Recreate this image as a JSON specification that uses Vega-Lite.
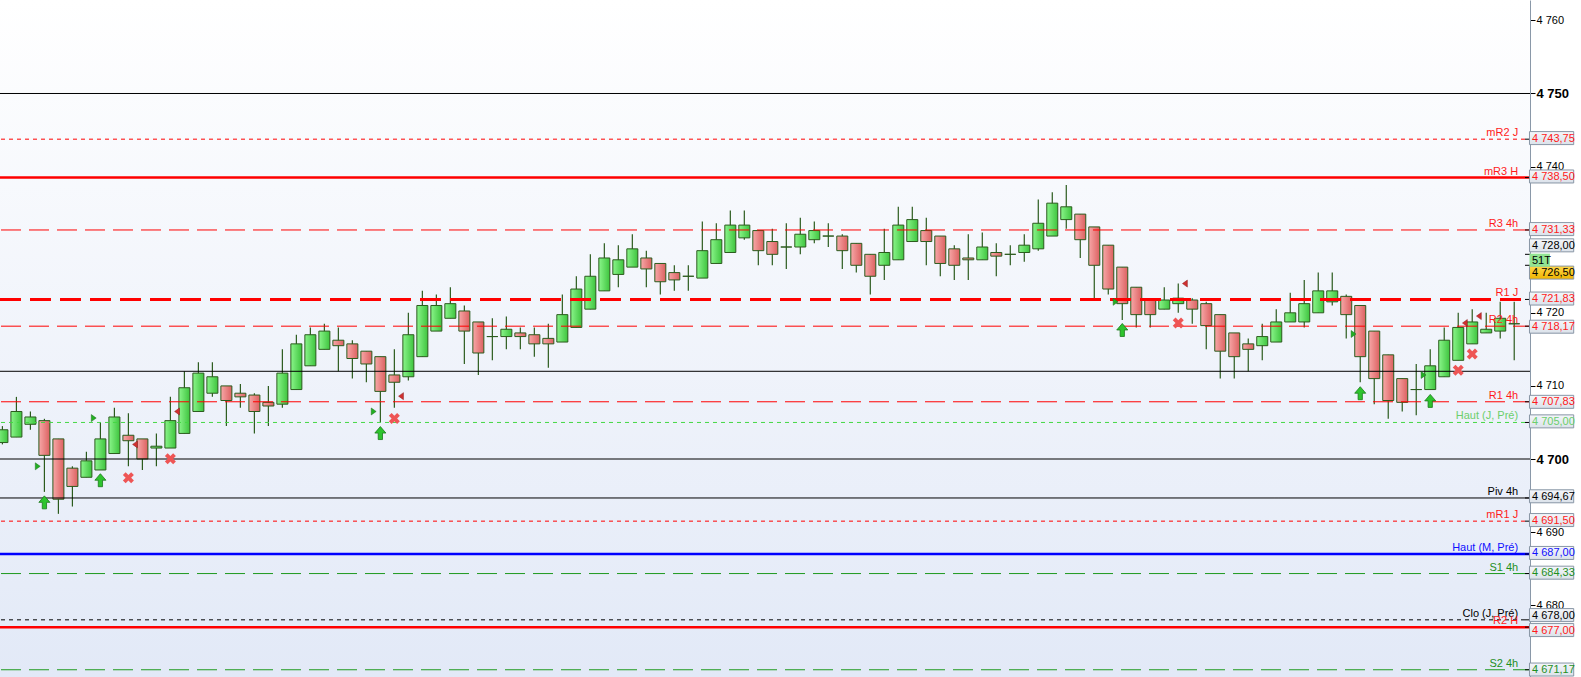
{
  "$schema": "https://vega.github.io/schema/vega-lite/v6.json",
  "width": 1530,
  "height": 677,
  "autosize": {"type": "none"},
  "padding": {"left": 0, "top": 0, "right": 51, "bottom": 0},
  "background": "#ffffff",
  "datasets": {
    "candles": [
      {"i": 0, "o": 4702.25, "h": 4704.5, "l": 4702, "c": 4704},
      {"i": 1, "o": 4703, "h": 4708.5, "l": 4703, "c": 4706.5},
      {"i": 2, "o": 4704.75, "h": 4706.5, "l": 4704, "c": 4705.75},
      {"i": 3, "o": 4705.25, "h": 4705.5, "l": 4695.5, "c": 4700.5},
      {"i": 4, "o": 4702.75, "h": 4702.75, "l": 4692.5, "c": 4694.5},
      {"i": 5, "o": 4698.75, "h": 4699, "l": 4693.5, "c": 4696.25},
      {"i": 6, "o": 4697.5, "h": 4701, "l": 4697.5, "c": 4699.75},
      {"i": 7, "o": 4698.5, "h": 4705, "l": 4698.5, "c": 4702.75},
      {"i": 8, "o": 4700.75, "h": 4707, "l": 4700.75, "c": 4705.75},
      {"i": 9, "o": 4703.25, "h": 4706.25, "l": 4699, "c": 4702.5},
      {"i": 10, "o": 4702.75, "h": 4702.75, "l": 4698.5, "c": 4700},
      {"i": 11, "o": 4701.5, "h": 4703.5, "l": 4699, "c": 4701.75},
      {"i": 12, "o": 4701.5, "h": 4708.5, "l": 4701.5, "c": 4705.25},
      {"i": 13, "o": 4703.5, "h": 4712, "l": 4703.5, "c": 4709.75},
      {"i": 14, "o": 4706.5, "h": 4713.25, "l": 4706.5, "c": 4711.75},
      {"i": 15, "o": 4709, "h": 4713.25, "l": 4708.5, "c": 4711.25},
      {"i": 16, "o": 4710, "h": 4710, "l": 4704.5, "c": 4708},
      {"i": 17, "o": 4709, "h": 4710.25, "l": 4707, "c": 4708.5},
      {"i": 18, "o": 4708.75, "h": 4709, "l": 4703.5, "c": 4706.5},
      {"i": 19, "o": 4707.75, "h": 4710, "l": 4704.5, "c": 4707.25},
      {"i": 20, "o": 4707.5, "h": 4715, "l": 4707, "c": 4711.75},
      {"i": 21, "o": 4709.5, "h": 4717, "l": 4709.5, "c": 4715.75},
      {"i": 22, "o": 4712.75, "h": 4718, "l": 4712.75, "c": 4717},
      {"i": 23, "o": 4715, "h": 4718.5, "l": 4715, "c": 4717.5},
      {"i": 24, "o": 4716.25, "h": 4718, "l": 4712, "c": 4715.5},
      {"i": 25, "o": 4715.75, "h": 4716.25, "l": 4711, "c": 4713.75},
      {"i": 26, "o": 4714.75, "h": 4714.75, "l": 4710.5, "c": 4713},
      {"i": 27, "o": 4714, "h": 4714, "l": 4705, "c": 4709.25},
      {"i": 28, "o": 4711.5, "h": 4715, "l": 4707, "c": 4710.5},
      {"i": 29, "o": 4711.25, "h": 4720, "l": 4710.75, "c": 4717},
      {"i": 30, "o": 4714, "h": 4723, "l": 4714, "c": 4721},
      {"i": 31, "o": 4717.5, "h": 4722.5, "l": 4717.5, "c": 4721},
      {"i": 32, "o": 4719.25, "h": 4723.5, "l": 4719.25, "c": 4721.25},
      {"i": 33, "o": 4720.25, "h": 4721, "l": 4713, "c": 4717.5},
      {"i": 34, "o": 4718.75, "h": 4718.75, "l": 4711.5, "c": 4714.5},
      {"i": 35, "o": 4716.75, "h": 4719.25, "l": 4713.5, "c": 4716.75},
      {"i": 36, "o": 4716.75, "h": 4719.5, "l": 4715, "c": 4717.75},
      {"i": 37, "o": 4717.25, "h": 4718, "l": 4715, "c": 4716.75},
      {"i": 38, "o": 4717, "h": 4718, "l": 4714, "c": 4715.75},
      {"i": 39, "o": 4716.5, "h": 4718.5, "l": 4712.5, "c": 4715.75},
      {"i": 40, "o": 4716, "h": 4722.5, "l": 4716, "c": 4719.75},
      {"i": 41, "o": 4718, "h": 4725, "l": 4718, "c": 4723.25},
      {"i": 42, "o": 4720.5, "h": 4728, "l": 4720.5, "c": 4725},
      {"i": 43, "o": 4723, "h": 4729.5, "l": 4723, "c": 4727.5},
      {"i": 44, "o": 4725.25, "h": 4729.25, "l": 4723.5, "c": 4727.25},
      {"i": 45, "o": 4726.25, "h": 4730.75, "l": 4726.25, "c": 4728.75},
      {"i": 46, "o": 4727.5, "h": 4728.5, "l": 4723.5, "c": 4726},
      {"i": 47, "o": 4726.75, "h": 4726.75, "l": 4722.5, "c": 4724.25},
      {"i": 48, "o": 4725.5, "h": 4726.5, "l": 4723, "c": 4724.5},
      {"i": 49, "o": 4725, "h": 4726.5, "l": 4723, "c": 4725},
      {"i": 50, "o": 4724.75, "h": 4732.5, "l": 4724.75, "c": 4728.5},
      {"i": 51, "o": 4726.75, "h": 4732.25, "l": 4726.75, "c": 4730},
      {"i": 52, "o": 4728.25, "h": 4734, "l": 4728.25, "c": 4732},
      {"i": 53, "o": 4730.25, "h": 4734, "l": 4730, "c": 4732},
      {"i": 54, "o": 4731.25, "h": 4731.25, "l": 4726.5, "c": 4728.5},
      {"i": 55, "o": 4729.75, "h": 4731.5, "l": 4726.5, "c": 4728},
      {"i": 56, "o": 4729, "h": 4732.25, "l": 4726, "c": 4729},
      {"i": 57, "o": 4729, "h": 4733, "l": 4728, "c": 4730.75},
      {"i": 58, "o": 4730, "h": 4732.5, "l": 4729.5, "c": 4731.25},
      {"i": 59, "o": 4730.5, "h": 4732.25, "l": 4729, "c": 4730.5},
      {"i": 60, "o": 4730.5, "h": 4730.75, "l": 4726, "c": 4728.5},
      {"i": 61, "o": 4729.5, "h": 4729.5, "l": 4725.5, "c": 4726.5},
      {"i": 62, "o": 4728, "h": 4728, "l": 4722.5, "c": 4725},
      {"i": 63, "o": 4726.5, "h": 4731.5, "l": 4724.5, "c": 4728.25},
      {"i": 64, "o": 4727.25, "h": 4734.5, "l": 4727.25, "c": 4732},
      {"i": 65, "o": 4729.75, "h": 4734.5, "l": 4729.75, "c": 4732.75},
      {"i": 66, "o": 4731.25, "h": 4733, "l": 4726.5, "c": 4729.75},
      {"i": 67, "o": 4730.5, "h": 4730.5, "l": 4725, "c": 4726.75},
      {"i": 68, "o": 4728.75, "h": 4729.25, "l": 4724.5, "c": 4726.5},
      {"i": 69, "o": 4727.5, "h": 4730.75, "l": 4724.5, "c": 4727.25},
      {"i": 70, "o": 4727.25, "h": 4731, "l": 4727.25, "c": 4729},
      {"i": 71, "o": 4728.25, "h": 4729.5, "l": 4725, "c": 4727.75},
      {"i": 72, "o": 4728, "h": 4729.25, "l": 4726.5, "c": 4728},
      {"i": 73, "o": 4728.25, "h": 4730.75, "l": 4727, "c": 4729.25},
      {"i": 74, "o": 4728.75, "h": 4735.5, "l": 4728.5, "c": 4732.25},
      {"i": 75, "o": 4730.5, "h": 4736.5, "l": 4730.5, "c": 4735},
      {"i": 76, "o": 4732.75, "h": 4737.5, "l": 4731.5, "c": 4734.5},
      {"i": 77, "o": 4733.5, "h": 4733.5, "l": 4727.5, "c": 4730},
      {"i": 78, "o": 4731.75, "h": 4731.75, "l": 4722, "c": 4726.5},
      {"i": 79, "o": 4729.25, "h": 4729.25, "l": 4722.5, "c": 4723.25},
      {"i": 80, "o": 4726.25, "h": 4726.25, "l": 4719, "c": 4721.25},
      {"i": 81, "o": 4723.5, "h": 4723.5, "l": 4718, "c": 4719.75},
      {"i": 82, "o": 4721.75, "h": 4721.75, "l": 4718, "c": 4719.75},
      {"i": 83, "o": 4720.5, "h": 4723.5, "l": 4720.5, "c": 4721.75},
      {"i": 84, "o": 4721.25, "h": 4724, "l": 4720, "c": 4722},
      {"i": 85, "o": 4721.75, "h": 4722, "l": 4718.5, "c": 4720.5},
      {"i": 86, "o": 4721.25, "h": 4721.5, "l": 4715, "c": 4718.25},
      {"i": 87, "o": 4719.75, "h": 4719.75, "l": 4711, "c": 4714.75},
      {"i": 88, "o": 4717.25, "h": 4717.25, "l": 4711, "c": 4714},
      {"i": 89, "o": 4715.75, "h": 4716.5, "l": 4712, "c": 4715},
      {"i": 90, "o": 4715.5, "h": 4718.5, "l": 4713.5, "c": 4716.75},
      {"i": 91, "o": 4716, "h": 4720.5, "l": 4716, "c": 4718.75},
      {"i": 92, "o": 4718.75, "h": 4722.75, "l": 4718.75, "c": 4720},
      {"i": 93, "o": 4718.75, "h": 4724.5, "l": 4718, "c": 4721.25},
      {"i": 94, "o": 4720, "h": 4725.5, "l": 4720, "c": 4723},
      {"i": 95, "o": 4721.5, "h": 4725.5, "l": 4721, "c": 4723},
      {"i": 96, "o": 4722.25, "h": 4722.5, "l": 4716.5, "c": 4719.75},
      {"i": 97, "o": 4721, "h": 4721, "l": 4710.5, "c": 4714},
      {"i": 98, "o": 4717.5, "h": 4717.5, "l": 4707.5, "c": 4711},
      {"i": 99, "o": 4714.25, "h": 4714.25, "l": 4705.5, "c": 4708},
      {"i": 100, "o": 4711, "h": 4711, "l": 4706.5, "c": 4707.75},
      {"i": 101, "o": 4709.5, "h": 4713, "l": 4706, "c": 4709.5},
      {"i": 102, "o": 4709.5, "h": 4715, "l": 4709.5, "c": 4712.75},
      {"i": 103, "o": 4711.25, "h": 4718, "l": 4711.25, "c": 4716.25},
      {"i": 104, "o": 4713.5, "h": 4720, "l": 4713.5, "c": 4718},
      {"i": 105, "o": 4715.75, "h": 4720.5, "l": 4715.75, "c": 4718.75},
      {"i": 106, "o": 4717.25, "h": 4720, "l": 4717.25, "c": 4717.75},
      {"i": 107, "o": 4717.5, "h": 4721.5, "l": 4716.5, "c": 4719.25},
      {"i": 108, "o": 4718.5, "h": 4721.5, "l": 4713.5, "c": 4718.5}
    ],
    "grid": [
      {"p": 4750},
      {"p": 4712},
      {"p": 4700}
    ],
    "levels": [
      {"name": "mR2 J", "p": 4743.75, "ty": 4743.9, "grp": "mJ", "t": "4 743,75", "box": "std"},
      {"name": "mR3 H", "p": 4738.5, "ty": 4738.65, "grp": "H", "t": "4 738,50", "box": "std"},
      {"name": "R3 4h", "p": 4731.33, "ty": 4731.45, "grp": "R4h", "t": "4 731,33", "box": "std"},
      {"name": "", "p": 4728, "ty": 4729.23, "grp": "tag", "t": "4 728,00", "box": "std"},
      {"name": "", "p": 4726.5, "ty": 4725.5, "grp": "tag", "t": "4 726,50", "box": "gold"},
      {"name": "R1 J", "p": 4721.83, "ty": 4721.95, "grp": "RJ", "t": "4 721,83", "box": "std"},
      {"name": "R2 4h", "p": 4718.17, "ty": 4718.1, "grp": "R4h", "t": "4 718,17", "box": "std"},
      {"name": "R1 4h", "p": 4707.83, "ty": 4707.82, "grp": "R4h", "t": "4 707,83", "box": "std"},
      {"name": "Haut (J, Pré)", "p": 4705, "ty": 4705.15, "grp": "HautJ", "t": "4 705,00", "box": "std"},
      {"name": "Piv 4h", "p": 4694.67, "ty": 4694.9, "grp": "Piv4h", "t": "4 694,67", "box": "std"},
      {"name": "mR1 J", "p": 4691.5, "ty": 4691.65, "grp": "mJ", "t": "4 691,50", "box": "std"},
      {"name": "Haut (M, Pré)", "p": 4687, "ty": 4687.15, "grp": "HautM", "t": "4 687,00", "box": "std"},
      {"name": "S1 4h", "p": 4684.33, "ty": 4684.45, "grp": "S4h", "t": "4 684,33", "box": "std"},
      {"name": "Clo (J, Pré)", "p": 4678, "ty": 4678.65, "grp": "CloJ", "t": "4 678,00", "box": "std"},
      {"name": "R2 H", "p": 4677, "ty": 4676.6, "grp": "H", "t": "4 677,00", "box": "std"},
      {"name": "S2 4h", "p": 4671.17, "ty": 4671.2, "grp": "S4h", "t": "4 671,17", "box": "std"}
    ],
    "counter": [
      {"ty": 4727.2, "t": "51T"}
    ],
    "signals": [
      {"i": 3, "p": 4694.07, "k": "up"},
      {"i": 7, "p": 4697.1, "k": "up"},
      {"i": 27, "p": 4703.55, "k": "up"},
      {"i": 80, "p": 4717.65, "k": "up"},
      {"i": 97, "p": 4709.0, "k": "up"},
      {"i": 102, "p": 4707.95, "k": "up"},
      {"i": 9, "p": 4697.45, "k": "x"},
      {"i": 12, "p": 4700.05, "k": "x"},
      {"i": 28, "p": 4705.55, "k": "x"},
      {"i": 84, "p": 4718.6, "k": "x"},
      {"i": 104, "p": 4712.15, "k": "x"},
      {"i": 105, "p": 4714.35, "k": "x"},
      {"i": 2.5, "p": 4699.0, "k": "tg"},
      {"i": 6.5, "p": 4705.6, "k": "tg"},
      {"i": 26.5, "p": 4706.5, "k": "tg"},
      {"i": 79.5, "p": 4721.5, "k": "tg"},
      {"i": 96.5, "p": 4717.1, "k": "tg"},
      {"i": 101.5, "p": 4711.5, "k": "tg"},
      {"i": 9.5, "p": 4702.0, "k": "tr"},
      {"i": 12.5, "p": 4706.5, "k": "tr"},
      {"i": 28.5, "p": 4708.6, "k": "tr"},
      {"i": 84.5, "p": 4724.0, "k": "tr"},
      {"i": 104.5, "p": 4718.6, "k": "tr"},
      {"i": 105.5, "p": 4719.55, "k": "tr"}
    ]
  },
  "layer": [
    {
      "data": {"name": "candles"},
      "mark": {"type": "rule", "color": "#2b5b1d", "strokeWidth": 1.2, "clip": true},
      "encoding": {
        "x": {"field": "i", "type": "quantitative", "scale": {"domain": [0.185, 108.77], "nice": false, "zero": false}, "axis": null},
        "y": {
          "field": "l", "type": "quantitative", "title": null,
          "scale": {"domain": [4670.18, 4762.79], "nice": false, "zero": false},
          "axis": {
            "orient": "right",
            "values": [4680, 4690, 4700, 4710, 4720, 4740, 4750, 4760],
            "labelExpr": "replace(format(datum.value, ','), ',', ' ')",
            "labelFont": "Liberation Sans",
            "labelFontSize": {"condition": {"test": "datum.value === 4750 || datum.value === 4700", "value": 13}, "value": 11},
            "labelFontWeight": {"condition": {"test": "datum.value === 4750 || datum.value === 4700", "value": "bold"}, "value": "normal"},
            "labelColor": "#000000",
            "labelPadding": 1,
            "labelOverlap": false,
            "labelFlush": false,
            "labelBound": false,
            "tickColor": "#000000",
            "tickSize": 5,
            "domainColor": "#8a98a8",
            "grid": false
          }
        },
        "y2": {"field": "h"}
      }
    },
    {
      "data": {"name": "candles"},
      "transform": [{"filter": "datum.c >= datum.o"}],
      "mark": {
        "type": "bar", "width": 11, "clip": true, "stroke": "#2b5b1d", "strokeWidth": 1,
        "fill": {"gradient": "linear", "x1": 0, "y1": 0, "x2": 1, "y2": 0, "stops": [{"offset": 0, "color": "#8af58a"}, {"offset": 1, "color": "#3ec43e"}]}
      },
      "encoding": {
        "x": {"field": "i", "type": "quantitative", "scale": {"domain": [0.185, 108.77], "nice": false, "zero": false}, "axis": null},
        "y": {"field": "o", "type": "quantitative", "title": null, "scale": {"domain": [4670.18, 4762.79], "nice": false, "zero": false}},
        "y2": {"field": "c"}
      }
    },
    {
      "data": {"name": "candles"},
      "transform": [{"filter": "datum.c < datum.o"}],
      "mark": {
        "type": "bar", "width": 11, "clip": true, "stroke": "#2b5b1d", "strokeWidth": 1,
        "fill": {"gradient": "linear", "x1": 0, "y1": 0, "x2": 1, "y2": 0, "stops": [{"offset": 0, "color": "#f7a8a8"}, {"offset": 1, "color": "#dc6060"}]}
      },
      "encoding": {
        "x": {"field": "i", "type": "quantitative", "scale": {"domain": [0.185, 108.77], "nice": false, "zero": false}, "axis": null},
        "y": {"field": "o", "type": "quantitative", "title": null, "scale": {"domain": [4670.18, 4762.79], "nice": false, "zero": false}},
        "y2": {"field": "c"}
      }
    },
    {
      "data": {"name": "grid"},
      "mark": {"type": "rule", "color": "#000000", "strokeWidth": 1},
      "encoding": {
        "y": {"field": "p", "type": "quantitative", "title": null, "scale": {"domain": [4670.18, 4762.79], "nice": false, "zero": false}}
      }
    },
    {
      "data": {"name": "levels"},
      "transform": [{"filter": "datum.grp === 'mJ' || datum.grp === 'R4h' || datum.grp === 'HautJ' || datum.grp === 'CloJ' || datum.grp === 'Piv4h' || datum.grp === 'S4h'"}],
      "mark": {"type": "rule", "strokeWidth": 1, "strokeDashOffset": 3},
      "encoding": {
        "y": {"field": "p", "type": "quantitative", "title": null, "scale": {"domain": [4670.18, 4762.79], "nice": false, "zero": false}},
        "stroke": {
          "field": "grp", "type": "nominal", "legend": null,
          "scale": {"domain": ["mJ", "H", "R4h", "RJ", "HautJ", "CloJ", "Piv4h", "HautM", "S4h"], "range": ["#ff0000", "#ff0000", "#ff0000", "#ff0000", "#44d844", "#000000", "#000000", "#0000ff", "#1e9a1e"]}
        },
        "strokeDash": {
          "field": "grp", "type": "nominal", "legend": null,
          "scale": {"domain": ["mJ", "H", "R4h", "RJ", "HautJ", "CloJ", "Piv4h", "HautM", "S4h"], "range": [[4, 4], [1, 0], [20, 8], [21, 9], [4, 4], [4, 4], [1, 0], [1, 0], [20, 8]]}
        }
      }
    },
    {
      "data": {"name": "levels"},
      "transform": [{"filter": "datum.grp === 'H' || datum.grp === 'HautM'"}],
      "mark": {"type": "rule", "strokeWidth": 2.5},
      "encoding": {
        "y": {"field": "p", "type": "quantitative", "title": null, "scale": {"domain": [4670.18, 4762.79], "nice": false, "zero": false}},
        "stroke": {
          "field": "grp", "type": "nominal", "legend": null,
          "scale": {"domain": ["mJ", "H", "R4h", "RJ", "HautJ", "CloJ", "Piv4h", "HautM", "S4h"], "range": ["#ff0000", "#ff0000", "#ff0000", "#ff0000", "#44d844", "#000000", "#000000", "#0000ff", "#1e9a1e"]}
        }
      }
    },
    {
      "data": {"name": "levels"},
      "transform": [{"filter": "datum.grp === 'RJ'"}],
      "mark": {"type": "rule", "strokeWidth": 3, "strokeDash": [21, 9], "strokeDashOffset": 21},
      "encoding": {
        "y": {"field": "p", "type": "quantitative", "title": null, "scale": {"domain": [4670.18, 4762.79], "nice": false, "zero": false}},
        "stroke": {
          "field": "grp", "type": "nominal", "legend": null,
          "scale": {"domain": ["mJ", "H", "R4h", "RJ", "HautJ", "CloJ", "Piv4h", "HautM", "S4h"], "range": ["#ff0000", "#ff0000", "#ff0000", "#ff0000", "#44d844", "#000000", "#000000", "#0000ff", "#1e9a1e"]}
        }
      }
    },
    {
      "data": {"name": "signals"},
      "transform": [{"filter": "datum.k === 'up'"}],
      "mark": {"type": "point", "filled": true, "opacity": 1, "size": 169, "shape": "M0,-1 L0.85,0 L0.33,0 L0.33,1 L-0.33,1 L-0.33,0 L-0.85,0 Z", "fill": "#2ec42e", "stroke": "#1a7a1a", "strokeWidth": 0.8},
      "encoding": {
        "x": {"field": "i", "type": "quantitative", "scale": {"domain": [0.185, 108.77], "nice": false, "zero": false}, "axis": null},
        "y": {"field": "p", "type": "quantitative", "title": null, "scale": {"domain": [4670.18, 4762.79], "nice": false, "zero": false}}
      }
    },
    {
      "data": {"name": "signals"},
      "transform": [{"filter": "datum.k === 'x'"}],
      "mark": {"type": "point", "filled": true, "opacity": 1, "size": 121, "shape": "M-1,-0.5 L-0.5,-1 L0,-0.5 L0.5,-1 L1,-0.5 L0.5,0 L1,0.5 L0.5,1 L0,0.5 L-0.5,1 L-1,0.5 L-0.5,0 Z", "fill": "#ee5555", "strokeWidth": 0},
      "encoding": {
        "x": {"field": "i", "type": "quantitative", "scale": {"domain": [0.185, 108.77], "nice": false, "zero": false}, "axis": null},
        "y": {"field": "p", "type": "quantitative", "title": null, "scale": {"domain": [4670.18, 4762.79], "nice": false, "zero": false}}
      }
    },
    {
      "data": {"name": "signals"},
      "transform": [{"filter": "datum.k === 'tg'"}],
      "mark": {"type": "point", "filled": true, "opacity": 1, "size": 49, "shape": "M-0.6,-1 L0.8,0 L-0.6,1 Z", "fill": "#22b022", "stroke": "#1b6b1b", "strokeWidth": 0.5},
      "encoding": {
        "x": {"field": "i", "type": "quantitative", "scale": {"domain": [0.185, 108.77], "nice": false, "zero": false}, "axis": null},
        "y": {"field": "p", "type": "quantitative", "title": null, "scale": {"domain": [4670.18, 4762.79], "nice": false, "zero": false}}
      }
    },
    {
      "data": {"name": "signals"},
      "transform": [{"filter": "datum.k === 'tr'"}],
      "mark": {"type": "point", "filled": true, "opacity": 1, "size": 49, "shape": "M0.6,-1 L-0.8,0 L0.6,1 Z", "fill": "#d03030", "stroke": "#8a1a1a", "strokeWidth": 0.5},
      "encoding": {
        "x": {"field": "i", "type": "quantitative", "scale": {"domain": [0.185, 108.77], "nice": false, "zero": false}, "axis": null},
        "y": {"field": "p", "type": "quantitative", "title": null, "scale": {"domain": [4670.18, 4762.79], "nice": false, "zero": false}}
      }
    },
    {
      "data": {"name": "levels"},
      "transform": [{"filter": "datum.grp !== 'tag'"}],
      "mark": {"type": "text", "align": "right", "baseline": "alphabetic", "dy": -3, "font": "Liberation Sans", "fontSize": 11},
      "encoding": {
        "x": {"datum": 108.28, "type": "quantitative", "scale": {"domain": [0.185, 108.77], "nice": false, "zero": false}},
        "y": {"field": "p", "type": "quantitative", "title": null, "scale": {"domain": [4670.18, 4762.79], "nice": false, "zero": false}},
        "text": {"field": "name"},
        "color": {
          "field": "grp", "type": "nominal", "legend": null,
          "scale": {"domain": ["mJ", "H", "R4h", "RJ", "HautJ", "CloJ", "Piv4h", "HautM", "S4h", "tag"], "range": ["#ff1a1a", "#ff1a1a", "#ff1a1a", "#ff1a1a", "#6ccf6c", "#000000", "#000000", "#1010ff", "#1e8f1e", "#000000"]}
        }
      }
    },
    {
      "data": {"name": "levels"},
      "mark": {"type": "rule", "color": "#000000", "strokeWidth": 1},
      "encoding": {
        "x": {"datum": 108.77, "type": "quantitative", "scale": {"domain": [0.185, 108.77], "nice": false, "zero": false}},
        "x2": {"datum": 109.13},
        "y": {"field": "p", "type": "quantitative", "title": null, "scale": {"domain": [4670.18, 4762.79], "nice": false, "zero": false}}
      }
    },
    {
      "data": {"name": "levels"},
      "transform": [{"filter": "datum.box === 'std'"}],
      "mark": {
        "type": "rect", "yOffset": -6.5, "y2Offset": 6.5, "stroke": "#8896a5", "strokeWidth": 1,
        "fill": {"gradient": "linear", "x1": 0, "y1": 0, "x2": 0, "y2": 1, "stops": [{"offset": 0, "color": "#f4f6fa"}, {"offset": 1, "color": "#dbe2ea"}]}
      },
      "encoding": {
        "x": {"datum": 109.09, "type": "quantitative", "scale": {"domain": [0.185, 108.77], "nice": false, "zero": false}},
        "x2": {"datum": 112.25},
        "y": {"field": "ty", "type": "quantitative", "title": null, "scale": {"domain": [4670.18, 4762.79], "nice": false, "zero": false}},
        "y2": {"field": "ty"}
      }
    },
    {
      "data": {"name": "levels"},
      "transform": [{"filter": "datum.box === 'gold'"}],
      "mark": {
        "type": "rect", "yOffset": -6.5, "y2Offset": 6.5, "stroke": "#8896a5", "strokeWidth": 1,
        "fill": {"gradient": "linear", "x1": 0, "y1": 0, "x2": 0, "y2": 1, "stops": [{"offset": 0, "color": "#ffd84a"}, {"offset": 1, "color": "#f0b400"}]}
      },
      "encoding": {
        "x": {"datum": 109.09, "type": "quantitative", "scale": {"domain": [0.185, 108.77], "nice": false, "zero": false}},
        "x2": {"datum": 112.25},
        "y": {"field": "ty", "type": "quantitative", "title": null, "scale": {"domain": [4670.18, 4762.79], "nice": false, "zero": false}},
        "y2": {"field": "ty"}
      }
    },
    {
      "data": {"name": "counter"},
      "mark": {"type": "rect", "yOffset": -6.5, "y2Offset": 6.5, "fill": "#92e492"},
      "encoding": {
        "x": {"datum": 109.09, "type": "quantitative", "scale": {"domain": [0.185, 108.77], "nice": false, "zero": false}},
        "x2": {"datum": 110.55},
        "y": {"field": "ty", "type": "quantitative", "title": null, "scale": {"domain": [4670.18, 4762.79], "nice": false, "zero": false}},
        "y2": {"field": "ty"}
      }
    },
    {
      "data": {"name": "counter"},
      "mark": {"type": "text", "align": "left", "baseline": "middle", "dy": 0.5, "font": "Liberation Sans", "fontSize": 11, "color": "#000000"},
      "encoding": {
        "x": {"datum": 109.27, "type": "quantitative", "scale": {"domain": [0.185, 108.77], "nice": false, "zero": false}},
        "y": {"field": "ty", "type": "quantitative", "title": null, "scale": {"domain": [4670.18, 4762.79], "nice": false, "zero": false}},
        "text": {"field": "t"}
      }
    },
    {
      "data": {"name": "levels"},
      "mark": {"type": "text", "align": "left", "baseline": "middle", "dy": 0.5, "font": "Liberation Sans", "fontSize": 11},
      "encoding": {
        "x": {"datum": 109.27, "type": "quantitative", "scale": {"domain": [0.185, 108.77], "nice": false, "zero": false}},
        "y": {"field": "ty", "type": "quantitative", "title": null, "scale": {"domain": [4670.18, 4762.79], "nice": false, "zero": false}},
        "text": {"field": "t"},
        "color": {
          "field": "grp", "type": "nominal", "legend": null,
          "scale": {"domain": ["mJ", "H", "R4h", "RJ", "HautJ", "CloJ", "Piv4h", "HautM", "S4h", "tag"], "range": ["#ff1a1a", "#ff1a1a", "#ff1a1a", "#ff1a1a", "#6ccf6c", "#000000", "#000000", "#1010ff", "#1e8f1e", "#000000"]}
        }
      }
    }
  ],
  "config": {
    "view": {
      "stroke": null,
      "fill": {"gradient": "linear", "x1": 0, "y1": 0, "x2": 0, "y2": 1, "stops": [{"offset": 0, "color": "#ffffff"}, {"offset": 1, "color": "#e2e9f7"}]}
    },
    "text": {"font": "Liberation Sans"}
  }
}
